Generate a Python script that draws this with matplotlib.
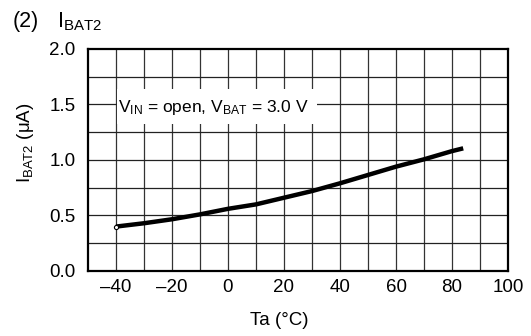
import matplotlib.pyplot as plt
import numpy as np
from matplotlib.patches import Rectangle

plt.rcParams['font.family'] = ['Liberation Sans', 'DejaVu Sans']
plt.rcParams['mathtext.fontset'] = 'custom'
plt.rcParams['mathtext.rm'] = 'Liberation Sans'
plt.rcParams['mathtext.it'] = 'Liberation Sans'

# curve
temp = [-40, -30, -20, -10, 0, 10, 20, 30, 40, 50, 60, 70, 80, 84]
ibat2 = [0.40, 0.43, 0.466, 0.51, 0.56, 0.60, 0.66, 0.72, 0.79, 0.865, 0.94, 1.006, 1.08, 1.105]

xticks = [-40, -20, 0, 20, 40, 60, 80, 100]
xticklabels = ['\u201340', '\u201320', '0', '20', '40', '60', '80', '100']
yticks = [0.0, 0.5, 1.0, 1.5, 2.0]

fig = plt.figure(figsize=(5.31, 3.36), dpi=100)
ax = fig.add_axes([0.1657, 0.1935, 0.791, 0.6607])

# grid every 10 degC and 0.25 uA
for gx in np.arange(-40, 100, 10):
    ax.axvline(gx, color='#333333', lw=0.9, zorder=1)
for gy in np.arange(0.25, 2.0, 0.25):
    ax.axhline(gy, color='#222222', lw=0.9, zorder=1)

# white patch behind the condition label
ax.add_patch(Rectangle((-39.6, 1.325), 71.4, 0.315, facecolor='white',
                       edgecolor='none', zorder=2))

ax.plot(temp, ibat2, color='black', lw=3.2, solid_capstyle='butt', zorder=3)
ax.plot(temp[0], ibat2[0], 'o', ms=3, mfc='white', mec='black', mew=0.8, zorder=4)

ax.set_xlim(-50, 100)
ax.set_ylim(0, 2.0)
ax.set_xticks(xticks)
ax.set_xticklabels(xticklabels)
ax.set_yticks(yticks)
ax.set_yticklabels(['%.1f' % v for v in yticks])
ax.tick_params(length=0, labelsize=13.5)
ax.tick_params(axis='y', pad=9)
ax.tick_params(axis='x', pad=6)
for s in ax.spines.values():
    s.set_linewidth(1.6)
    s.set_zorder(5)

ax.text(-39.2, 1.47, r'$\mathregular{V_{IN}}$ = open, $\mathregular{V_{BAT}}$ = 3.0 V',
        fontsize=12.5, va='center', ha='left', zorder=4)

ax.set_xlabel('Ta (°C)', fontsize=13.5)
ax.xaxis.set_label_coords(0.455, -0.185)
ax.set_ylabel(r'$\mathregular{I_{BAT2}}$ (μA)', fontsize=13.5)
ax.yaxis.set_label_coords(-0.124, 0.58)
fig.text(0.024, 0.936, '(2)', fontsize=15.5, va='center')
fig.text(0.107, 0.936, r'$\mathregular{I_{BAT2}}$', fontsize=15.5, va='center')

fig.savefig('out.png', dpi=100)
